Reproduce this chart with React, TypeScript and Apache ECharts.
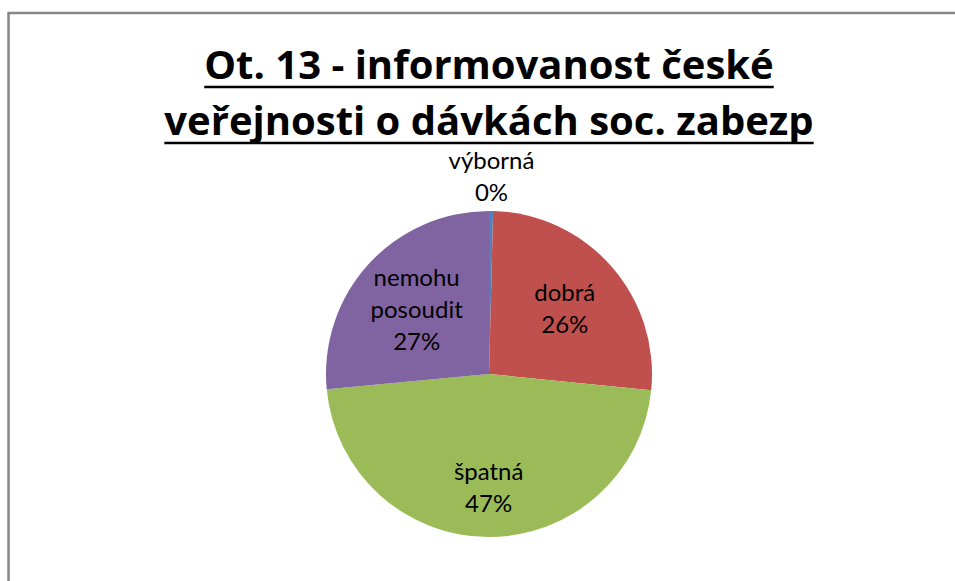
import React, { useEffect, useRef } from "react";
import * as echarts from "echarts";

// ---- data ----
const CATEGORIES = ["výborná", "dobrá", "špatná", "nemohu posoudit"];
const SHARES = [0.4, 26.2, 46.9, 26.5];
const COLORS = ["#4F81BD", "#C0504D", "#9BBB59", "#8064A2"];
const TITLE_LINES = ["Ot. 13 - informovanost české", "veřejnosti o dávkách soc. zabezp"];

// ---- layout ----
const CX = 489;
const CY = 374;
const R = 163;
const LABEL_RADII = [1.22, 0.62, 0.69, 0.6];
const TITLE_FONT = "bold 40px 'Open Sans'";
const TITLE_MID_Y = [63, 119];
const UNDERLINE_Y = [87, 143];

function measure(text: string, font: string): number {
  const c = document.createElement("canvas").getContext("2d");
  if (!c) return text.length * 20;
  c.font = font;
  return c.measureText(text).width;
}

export default function App() {
  const ref = useRef<HTMLDivElement>(null);
  useEffect(() => {
    if (!ref.current) return;
    const chart = echarts.init(ref.current, undefined, { renderer: "svg" });
    const graphics: any[] = [
      {
        type: "rect",
        shape: { x: 8.5, y: 13, width: 1200, height: 1200 },
        style: { fill: "none", stroke: "#868686", lineWidth: 2.5 },
        silent: true,
      },
    ];
    TITLE_LINES.forEach((line, i) => {
      const w = measure(line, TITLE_FONT);
      graphics.push({
        type: "text",
        x: CX,
        y: TITLE_MID_Y[i],
        style: {
          text: line,
          fontFamily: "Open Sans",
          fontWeight: "bold",
          fontSize: 40,
          fill: "#000",
          align: "center",
          verticalAlign: "middle",
        },
      });
      graphics.push({
        type: "line",
        shape: { x1: CX - w / 2, y1: UNDERLINE_Y[i], x2: CX + w / 2, y2: UNDERLINE_Y[i] },
        style: { stroke: "#000", lineWidth: 2.5 },
      });
    });

    chart.setOption({
      animation: false,
      backgroundColor: "#fff",
      color: COLORS,
      graphic: graphics,
      series: [
        {
          type: "pie",
          center: [CX, CY],
          radius: [0, R],
          startAngle: 90,
          clockwise: true,
          avoidLabelOverlap: false,
          itemStyle: { borderWidth: 0 },
          label: {
            show: true,
            position: "inside",
            color: "#000",
            fontFamily: "Lato",
            fontSize: 24,
            lineHeight: 32,
            align: "center",
            formatter: (p: any) =>
              p.name.replace(" ", "\n") + "\n" + Math.round(p.value) + "%",
          },
          labelLine: { show: false },
          labelLayout: (p: any) => {
            const r = p.labelRect;
            const lx = r.x + r.width / 2;
            const ly = r.y + r.height / 2;
            const vx = lx - CX;
            const vy = ly - CY;
            const d = Math.hypot(vx, vy) || 1;
            const t = LABEL_RADII[p.dataIndex] * R;
            return { dx: (vx / d) * t - vx, dy: (vy / d) * t - vy };
          },
          data: CATEGORIES.map((name, i) => ({ name, value: SHARES[i] })),
        },
      ],
    });
    return () => chart.dispose();
  }, []);
  return (
    <div
      ref={ref}
      style={{ position: "fixed", left: 0, top: 0, width: 955, height: 581, background: "#fff" }}
    />
  );
}
